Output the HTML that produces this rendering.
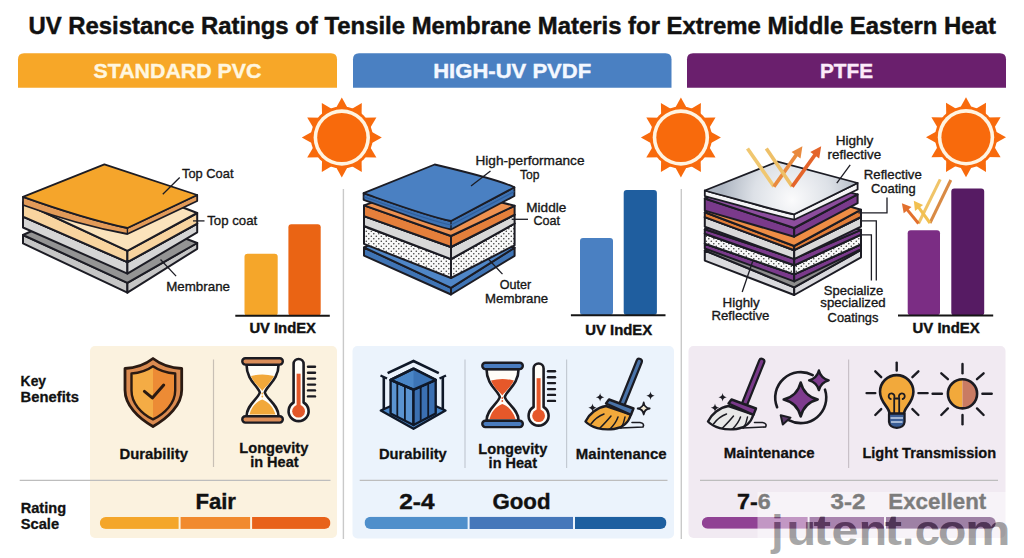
<!DOCTYPE html>
<html><head><meta charset="utf-8"><style>
html,body{margin:0;padding:0;background:#fff;width:1024px;height:558px;overflow:hidden}
svg{display:block;font-family:"Liberation Sans",sans-serif}
</style></head><body>
<svg width="1024" height="558" viewBox="0 0 1024 558">
<defs>
<pattern id="dots" width="5" height="5" patternUnits="userSpaceOnUse"><rect width="5" height="5" fill="#F8F8F8"/><circle cx="1.3" cy="1.3" r="0.8" fill="#3a3a3a"/><circle cx="3.8" cy="3.8" r="0.8" fill="#3a3a3a"/></pattern>
<radialGradient id="silver" gradientUnits="userSpaceOnUse" cx="792" cy="195" r="70" fx="792" fy="200"><stop offset="0" stop-color="#FBFBFC"/><stop offset="0.55" stop-color="#DDE1E7"/><stop offset="1" stop-color="#AEB6C2"/></radialGradient>
<linearGradient id="arrIn" x1="0" y1="0" x2="1" y2="1"><stop offset="0" stop-color="#F6D27A"/><stop offset="1" stop-color="#E9A040"/></linearGradient>
<linearGradient id="arrOut" x1="0" y1="1" x2="1" y2="0"><stop offset="0" stop-color="#E99A45"/><stop offset="1" stop-color="#E2602A"/></linearGradient>
</defs>
<rect x="0" y="0" width="1024" height="558" fill="#FFFFFF"/>
<text x="28.4" y="34.3" font-size="24" font-weight="bold" fill="#111" text-anchor="start" textLength="967.5" lengthAdjust="spacingAndGlyphs" stroke="#111" stroke-width="0.45">UV Resistance Ratings of Tensile Membrane Materis for Extreme Middle Eastern Heat</text>
<path d="M18,87.8 L18,59.3 Q18,53.3 24,53.3 L331,53.3 Q337,53.3 337,59.3 L337,87.8 Z" fill="#F7A728"/>
<text x="177.5" y="78.4" font-size="21" font-weight="bold" fill="#FFF6DF" text-anchor="middle" textLength="168.0" lengthAdjust="spacingAndGlyphs" stroke="#FFF6DF" stroke-width="0.4">STANDARD PVC</text>
<path d="M353,87.8 L353,59.3 Q353,53.3 359,53.3 L665.5,53.3 Q671.5,53.3 671.5,59.3 L671.5,87.8 Z" fill="#4A80C2"/>
<text x="512.2" y="78.4" font-size="21" font-weight="bold" fill="#F4F8FF" text-anchor="middle" textLength="158.0" lengthAdjust="spacingAndGlyphs" stroke="#F4F8FF" stroke-width="0.4">HIGH-UV PVDF</text>
<path d="M687,87.8 L687,59.3 Q687,53.3 693,53.3 L1000,53.3 Q1006,53.3 1006,59.3 L1006,87.8 Z" fill="#6A1F6D"/>
<text x="846.5" y="78.4" font-size="21" font-weight="bold" fill="#FCEBFA" text-anchor="middle" textLength="53.0" lengthAdjust="spacingAndGlyphs" stroke="#FCEBFA" stroke-width="0.4">PTFE</text>
<line x1="343.4" y1="189.0" x2="343.4" y2="539.0" stroke="#C9C9C9" stroke-width="1.4" />
<line x1="681.3" y1="189.0" x2="681.3" y2="539.0" stroke="#C9C9C9" stroke-width="1.4" />
<circle cx="341.8" cy="137.5" r="31" fill="#F86A0C"/>
<polygon points="341.8,97.5 349.0,110.5 334.6,110.5" fill="#F86A0C"/>
<polygon points="361.8,102.9 361.5,117.7 349.1,110.5" fill="#F86A0C"/>
<polygon points="376.4,117.5 368.8,130.2 361.6,117.8" fill="#F86A0C"/>
<polygon points="381.8,137.5 368.8,144.7 368.8,130.3" fill="#F86A0C"/>
<polygon points="376.4,157.5 361.6,157.2 368.8,144.8" fill="#F86A0C"/>
<polygon points="361.8,172.1 349.1,164.5 361.5,157.3" fill="#F86A0C"/>
<polygon points="341.8,177.5 334.6,164.5 349.0,164.5" fill="#F86A0C"/>
<polygon points="321.8,172.1 322.1,157.3 334.5,164.5" fill="#F86A0C"/>
<polygon points="307.2,157.5 314.8,144.8 322.0,157.2" fill="#F86A0C"/>
<polygon points="301.8,137.5 314.8,130.3 314.8,144.7" fill="#F86A0C"/>
<polygon points="307.2,117.5 322.0,117.8 314.8,130.2" fill="#F86A0C"/>
<polygon points="321.8,102.9 334.5,110.5 322.1,117.7" fill="#F86A0C"/>
<circle cx="341.8" cy="137.5" r="28.2" fill="#FFF4E2"/>
<circle cx="341.8" cy="137.5" r="24.6" fill="#F86A0C"/>
<circle cx="680.9" cy="137.5" r="31" fill="#F86A0C"/>
<polygon points="680.9,97.5 688.1,110.5 673.7,110.5" fill="#F86A0C"/>
<polygon points="700.9,102.9 700.6,117.7 688.2,110.5" fill="#F86A0C"/>
<polygon points="715.5,117.5 707.9,130.2 700.7,117.8" fill="#F86A0C"/>
<polygon points="720.9,137.5 707.9,144.7 707.9,130.3" fill="#F86A0C"/>
<polygon points="715.5,157.5 700.7,157.2 707.9,144.8" fill="#F86A0C"/>
<polygon points="700.9,172.1 688.2,164.5 700.6,157.3" fill="#F86A0C"/>
<polygon points="680.9,177.5 673.7,164.5 688.1,164.5" fill="#F86A0C"/>
<polygon points="660.9,172.1 661.2,157.3 673.6,164.5" fill="#F86A0C"/>
<polygon points="646.3,157.5 653.9,144.8 661.1,157.2" fill="#F86A0C"/>
<polygon points="640.9,137.5 653.9,130.3 653.9,144.7" fill="#F86A0C"/>
<polygon points="646.3,117.5 661.1,117.8 653.9,130.2" fill="#F86A0C"/>
<polygon points="660.9,102.9 673.6,110.5 661.2,117.7" fill="#F86A0C"/>
<circle cx="680.9" cy="137.5" r="28.2" fill="#FFF4E2"/>
<circle cx="680.9" cy="137.5" r="24.6" fill="#F86A0C"/>
<circle cx="966" cy="137.3" r="31" fill="#F86A0C"/>
<polygon points="966.0,97.3 973.2,110.3 958.8,110.3" fill="#F86A0C"/>
<polygon points="986.0,102.7 985.7,117.5 973.3,110.3" fill="#F86A0C"/>
<polygon points="1000.6,117.3 993.0,130.0 985.8,117.6" fill="#F86A0C"/>
<polygon points="1006.0,137.3 993.0,144.5 993.0,130.1" fill="#F86A0C"/>
<polygon points="1000.6,157.3 985.8,157.0 993.0,144.6" fill="#F86A0C"/>
<polygon points="986.0,171.9 973.3,164.3 985.7,157.1" fill="#F86A0C"/>
<polygon points="966.0,177.3 958.8,164.3 973.2,164.3" fill="#F86A0C"/>
<polygon points="946.0,171.9 946.3,157.1 958.7,164.3" fill="#F86A0C"/>
<polygon points="931.4,157.3 939.0,144.6 946.2,157.0" fill="#F86A0C"/>
<polygon points="926.0,137.3 939.0,130.1 939.0,144.5" fill="#F86A0C"/>
<polygon points="931.4,117.3 946.2,117.6 939.0,130.0" fill="#F86A0C"/>
<polygon points="946.0,102.7 958.7,110.3 946.3,117.5" fill="#F86A0C"/>
<circle cx="966" cy="137.3" r="28.2" fill="#FFF4E2"/>
<circle cx="966" cy="137.3" r="24.6" fill="#F86A0C"/>
<polygon points="23.0,235.0 127.4,282.8 127.4,292.7 23.0,243.4" fill="#C6C6C6" stroke="#1c1c24" stroke-width="2.0" stroke-linejoin="round" />
<polygon points="127.4,282.8 197.2,243.0 197.2,248.8 127.4,292.7" fill="#C6C6C6" stroke="#1c1c24" stroke-width="2.0" stroke-linejoin="round" />
<polygon points="23.0,235.0 92.8,203.2 197.2,243.0 127.4,282.8" fill="#949494" stroke="#1c1c24" stroke-width="2.0" stroke-linejoin="round" />
<polygon points="23.0,216.6 127.4,262.2 127.4,273.6 23.0,227.5" fill="#D5D5D5" stroke="#1c1c24" stroke-width="2.0" stroke-linejoin="round" />
<polygon points="127.4,262.2 197.2,223.7 197.2,232.3 127.4,273.6" fill="#D5D5D5" stroke="#1c1c24" stroke-width="2.0" stroke-linejoin="round" />
<polygon points="23.0,216.6 92.8,186.1 197.2,223.7 127.4,262.2" fill="#D6D6D6" stroke="#1c1c24" stroke-width="2.0" stroke-linejoin="round" />
<polygon points="23.0,202.5 127.4,250.8 127.4,262.2 23.0,216.6" fill="#F8D49F" stroke="#1c1c24" stroke-width="2.0" stroke-linejoin="round" />
<polygon points="127.4,250.8 197.2,213.0 197.2,223.7 127.4,262.2" fill="#F8D49F" stroke="#1c1c24" stroke-width="2.0" stroke-linejoin="round" />
<polygon points="23.0,202.5 92.8,172.7 197.2,213.0 127.4,250.8" fill="#FBE3BC" stroke="#1c1c24" stroke-width="2.0" stroke-linejoin="round" />
<path d="M23,196.8 C60,210 100,222 127.4,228 L197.2,195 L197.2,201 L127.4,234 C100,229 60,218.5 23,205 Z" fill="#E29A58" stroke="#1c1c24" stroke-width="1.8" stroke-linejoin="round"/>
<path d="M23,196.8 L104.4,164.3 L197.2,195 L127.4,228 C100,222 60,210 23,196.8 Z" fill="#F5A52B" stroke="#1c1c24" stroke-width="1.8" stroke-linejoin="round"/>
<line x1="127.4" y1="228.0" x2="127.4" y2="234.0" stroke="#1c1c24" stroke-width="1.4" />
<text x="182.0" y="178.1" font-size="13.5" font-weight="normal" fill="#1a1a1a" text-anchor="start" textLength="51.5" lengthAdjust="spacingAndGlyphs" stroke="#111" stroke-width="0.35">Top Coat</text>
<line x1="179.7" y1="177.5" x2="162.8" y2="194.3" stroke="#1c1c24" stroke-width="1.3" />
<text x="207.2" y="225.2" font-size="13.5" font-weight="normal" fill="#1a1a1a" text-anchor="start" textLength="50.0" lengthAdjust="spacingAndGlyphs" stroke="#111" stroke-width="0.35">Top coat</text>
<line x1="193.0" y1="220.9" x2="204.5" y2="220.9" stroke="#1c1c24" stroke-width="1.3" />
<text x="166.2" y="290.8" font-size="13.5" font-weight="normal" fill="#1a1a1a" text-anchor="start" textLength="63.8" lengthAdjust="spacingAndGlyphs" stroke="#111" stroke-width="0.35">Membrane</text>
<line x1="160.5" y1="259.5" x2="176.1" y2="276.1" stroke="#1c1c24" stroke-width="1.3" />
<rect x="244.5" y="253.7" width="33.2" height="62" rx="3" fill="#F5A62A"/>
<rect x="288.4" y="224.2" width="32.3" height="91.5" rx="3" fill="#EA6414"/>
<line x1="235.3" y1="315.8" x2="329.8" y2="315.8" stroke="#151515" stroke-width="2" />
<text x="249.4" y="333.4" font-size="15" font-weight="bold" fill="#111" text-anchor="start" textLength="66.5" lengthAdjust="spacingAndGlyphs" stroke="#111" stroke-width="0.4">UV IndEX</text>
<polygon points="364.0,247.5 451.0,287.8 451.0,294.5 364.0,255.6" fill="#3F74B5" stroke="#1c1c24" stroke-width="2.0" stroke-linejoin="round" />
<polygon points="451.0,287.8 514.6,247.7 514.6,255.8 451.0,294.5" fill="#3F74B5" stroke="#1c1c24" stroke-width="2.0" stroke-linejoin="round" />
<polygon points="364.0,247.5 427.6,215.4 514.6,247.7 451.0,287.8" fill="#4F86C7" stroke="#1c1c24" stroke-width="2.0" stroke-linejoin="round" />
<polygon points="364.0,226.0 451.0,259.1 451.0,278.0 364.0,243.9" fill="url(#dots)" stroke="#1c1c24" stroke-width="2.0" stroke-linejoin="round" />
<polygon points="451.0,259.1 514.6,223.5 514.6,245.3 451.0,278.0" fill="url(#dots)" stroke="#1c1c24" stroke-width="2.0" stroke-linejoin="round" />
<polygon points="364.0,226.0 427.6,198.4 514.6,223.5 451.0,259.1" fill="#F5F5F5" stroke="#1c1c24" stroke-width="2.0" stroke-linejoin="round" />
<polygon points="364.0,216.1 451.0,247.0 451.0,259.1 364.0,226.0" fill="#D8D8D8" stroke="#1c1c24" stroke-width="2.0" stroke-linejoin="round" />
<polygon points="451.0,247.0 514.6,214.7 514.6,223.5 451.0,259.1" fill="#D8D8D8" stroke="#1c1c24" stroke-width="2.0" stroke-linejoin="round" />
<polygon points="364.0,216.1 427.6,191.8 514.6,214.7 451.0,247.0" fill="#DADADA" stroke="#1c1c24" stroke-width="2.0" stroke-linejoin="round" />
<polygon points="364.0,205.4 451.0,236.0 451.0,247.0 364.0,216.1" fill="#E57F3B" stroke="#1c1c24" stroke-width="2.0" stroke-linejoin="round" />
<polygon points="451.0,236.0 514.6,205.8 514.6,214.7 451.0,247.0" fill="#E57F3B" stroke="#1c1c24" stroke-width="2.0" stroke-linejoin="round" />
<polygon points="364.0,205.4 427.6,183.2 514.6,205.8 451.0,236.0" fill="#EE9150" stroke="#1c1c24" stroke-width="2.0" stroke-linejoin="round" />
<path d="M363.6,193.2 C400,206 430,217 451,221 L514.4,187.3 L514.4,196 L451,229.5 C430,225 400,212.5 363.6,199.8 Z" fill="#3D71B2" stroke="#1c1c24" stroke-width="1.8" stroke-linejoin="round"/>
<path d="M363.6,193.2 L434.7,164.5 Q500,180 514.4,187.3 L451,221 C430,217 400,206 363.6,193.2 Z" fill="#4A80C2" stroke="#1c1c24" stroke-width="1.8" stroke-linejoin="round"/>
<line x1="451.0" y1="221.0" x2="451.0" y2="229.5" stroke="#1c1c24" stroke-width="1.4" />
<path d="M363.6,196.8 C400,209.5 430,220.8 451,225 L514.4,191.5" fill="none" stroke="#2F5E9A" stroke-width="1.1"/>
<text x="475.5" y="164.7" font-size="13.5" font-weight="normal" fill="#1a1a1a" text-anchor="start" textLength="109.0" lengthAdjust="spacingAndGlyphs" stroke="#111" stroke-width="0.35">High-performance</text>
<text x="520.0" y="179.2" font-size="13.5" font-weight="normal" fill="#1a1a1a" text-anchor="start" textLength="19.5" lengthAdjust="spacingAndGlyphs" stroke="#111" stroke-width="0.35">Top</text>
<line x1="490.5" y1="171.0" x2="471.0" y2="186.0" stroke="#1c1c24" stroke-width="1.3" />
<text x="526.3" y="211.6" font-size="13.5" font-weight="normal" fill="#1a1a1a" text-anchor="start" textLength="40.0" lengthAdjust="spacingAndGlyphs" stroke="#111" stroke-width="0.35">Middle</text>
<text x="533.5" y="225.1" font-size="13.5" font-weight="normal" fill="#1a1a1a" text-anchor="start" textLength="26.6" lengthAdjust="spacingAndGlyphs" stroke="#111" stroke-width="0.35">Coat</text>
<line x1="511.7" y1="219.3" x2="528.0" y2="219.3" stroke="#1c1c24" stroke-width="1.3" />
<text x="499.7" y="289.0" font-size="13.5" font-weight="normal" fill="#1a1a1a" text-anchor="start" textLength="31.4" lengthAdjust="spacingAndGlyphs" stroke="#111" stroke-width="0.35">Outer</text>
<text x="485.1" y="302.5" font-size="13.5" font-weight="normal" fill="#1a1a1a" text-anchor="start" textLength="63.0" lengthAdjust="spacingAndGlyphs" stroke="#111" stroke-width="0.35">Membrane</text>
<line x1="488.3" y1="259.0" x2="502.5" y2="274.1" stroke="#1c1c24" stroke-width="1.3" />
<rect x="580" y="237.9" width="33" height="77" rx="3" fill="#4A80C2"/>
<rect x="623.7" y="190" width="33.2" height="125" rx="3" fill="#1F5E9F"/>
<line x1="570.9" y1="315.2" x2="665.5" y2="315.2" stroke="#151515" stroke-width="2" />
<text x="585.2" y="334.8" font-size="15" font-weight="bold" fill="#111" text-anchor="start" textLength="67.0" lengthAdjust="spacingAndGlyphs" stroke="#111" stroke-width="0.4">UV IndEX</text>
<polygon points="704.8,250.5 794.2,287.3 794.2,295.0 704.8,260.6" fill="#DADADE" stroke="#1c1c24" stroke-width="2.0" stroke-linejoin="round" />
<polygon points="794.2,287.3 861.0,250.0 861.0,257.3 794.2,295.0" fill="#DADADE" stroke="#1c1c24" stroke-width="2.0" stroke-linejoin="round" />
<polygon points="704.8,250.5 771.6,221.2 861.0,250.0 794.2,287.3" fill="#8C8C8C" stroke="#1c1c24" stroke-width="2.0" stroke-linejoin="round" />
<polygon points="704.8,243.7 794.2,274.4 794.2,281.4 704.8,248.5" fill="#7A3A8B" stroke="#1c1c24" stroke-width="2.0" stroke-linejoin="round" />
<polygon points="794.2,274.4 861.0,244.4 861.0,249.2 794.2,281.4" fill="#7A3A8B" stroke="#1c1c24" stroke-width="2.0" stroke-linejoin="round" />
<polygon points="704.8,243.7 771.6,221.7 861.0,244.4 794.2,274.4" fill="#8C4D9D" stroke="#1c1c24" stroke-width="2.0" stroke-linejoin="round" />
<polygon points="704.8,233.7 794.2,265.3 794.2,274.4 704.8,243.7" fill="url(#dots)" stroke="#1c1c24" stroke-width="2.0" stroke-linejoin="round" />
<polygon points="794.2,265.3 861.0,234.7 861.0,244.4 794.2,274.4" fill="url(#dots)" stroke="#1c1c24" stroke-width="2.0" stroke-linejoin="round" />
<polygon points="704.8,233.7 771.6,211.1 861.0,234.7 794.2,265.3" fill="#F5F5F5" stroke="#1c1c24" stroke-width="2.0" stroke-linejoin="round" />
<polygon points="704.8,229.3 794.2,258.5 794.2,265.3 704.8,233.7" fill="#7A3A8B" stroke="#1c1c24" stroke-width="2.0" stroke-linejoin="round" />
<polygon points="794.2,258.5 861.0,229.8 861.0,234.7 794.2,265.3" fill="#7A3A8B" stroke="#1c1c24" stroke-width="2.0" stroke-linejoin="round" />
<polygon points="704.8,229.3 771.6,208.6 861.0,229.8 794.2,258.5" fill="#8C4D9D" stroke="#1c1c24" stroke-width="2.0" stroke-linejoin="round" />
<polygon points="704.8,217.1 794.2,250.2 794.2,259.1 704.8,226.8" fill="#D9D9D9" stroke="#1c1c24" stroke-width="2.0" stroke-linejoin="round" />
<polygon points="794.2,250.2 861.0,217.0 861.0,226.6 794.2,259.1" fill="#D9D9D9" stroke="#1c1c24" stroke-width="2.0" stroke-linejoin="round" />
<polygon points="704.8,217.1 771.6,191.9 861.0,217.0 794.2,250.2" fill="#DCDCDC" stroke="#1c1c24" stroke-width="2.0" stroke-linejoin="round" />
<polygon points="704.8,212.3 794.2,246.0 794.2,250.2 704.8,217.1" fill="#E27E38" stroke="#1c1c24" stroke-width="2.0" stroke-linejoin="round" />
<polygon points="794.2,246.0 861.0,209.7 861.0,217.0 794.2,250.2" fill="#E27E38" stroke="#1c1c24" stroke-width="2.0" stroke-linejoin="round" />
<polygon points="704.8,212.3 771.6,184.0 861.0,209.7 794.2,246.0" fill="#EE8D45" stroke="#1c1c24" stroke-width="2.0" stroke-linejoin="round" />
<polygon points="704.8,198.5 794.2,228.0 794.2,236.7 704.8,210.6" fill="#7A3A8B" stroke="#1c1c24" stroke-width="2.0" stroke-linejoin="round" />
<polygon points="794.2,228.0 857.6,194.4 857.6,203.2 794.2,236.7" fill="#7A3A8B" stroke="#1c1c24" stroke-width="2.0" stroke-linejoin="round" />
<polygon points="704.8,198.5 768.2,172.9 857.6,194.4 794.2,228.0" fill="#8C4D9D" stroke="#1c1c24" stroke-width="2.0" stroke-linejoin="round" />
<path d="M704.8,190.5 C740,200 770,209 794.2,214.3 L857.6,183 L857.6,189.5 L794.2,219.7 C770,214.5 740,205.5 704.8,196.1 Z" fill="#F4F4F6" stroke="#1c1c24" stroke-width="1.8" stroke-linejoin="round"/>
<path d="M704.8,190.5 L777.6,161.7 L857.6,183 L794.2,214.3 C770,209 740,200 704.8,190.5 Z" fill="url(#silver)" stroke="#1c1c24" stroke-width="1.8" stroke-linejoin="round"/>
<line x1="794.2" y1="214.3" x2="794.2" y2="219.7" stroke="#1c1c24" stroke-width="1.4" />
<polyline points="747.5,148.4 773.9,186.6" fill="none" stroke="#F0C770" stroke-width="3.6" stroke-linecap="butt"/>
<polyline points="773.9,186.6 797.2,153.6" fill="none" stroke="#E98A3E" stroke-width="3.6" stroke-linejoin="miter"/>
<polygon points="802.4,146.3 800.5,158.5 791.6,152.1" fill="#E98A3E"/>
<polyline points="766.3,148.4 792.2,186.6" fill="none" stroke="#EEC068" stroke-width="3.6" stroke-linecap="butt"/>
<polyline points="792.2,186.6 815.9,153.6" fill="none" stroke="#E4642A" stroke-width="3.6" stroke-linejoin="miter"/>
<polygon points="821.2,146.3 819.2,158.4 810.3,152.0" fill="#E4642A"/>
<text x="854.5" y="145.3" font-size="13.5" font-weight="normal" fill="#1a1a1a" text-anchor="middle" textLength="37.7" lengthAdjust="spacingAndGlyphs" stroke="#111" stroke-width="0.35">Highly</text>
<text x="827.6" y="159.0" font-size="13.5" font-weight="normal" fill="#1a1a1a" text-anchor="start" textLength="53.5" lengthAdjust="spacingAndGlyphs" stroke="#111" stroke-width="0.35">reflective</text>
<line x1="850.2" y1="164.8" x2="836.8" y2="183.2" stroke="#1c1c24" stroke-width="1.3" />
<text x="863.8" y="179.2" font-size="13.5" font-weight="normal" fill="#1a1a1a" text-anchor="start" textLength="58.0" lengthAdjust="spacingAndGlyphs" stroke="#111" stroke-width="0.35">Reflective</text>
<text x="871.0" y="192.7" font-size="13.5" font-weight="normal" fill="#1a1a1a" text-anchor="start" textLength="44.6" lengthAdjust="spacingAndGlyphs" stroke="#111" stroke-width="0.35">Coating</text>
<polyline points="887,197.6 887,212.8 858.3,212.8" fill="none" stroke="#1c1c24" stroke-width="1.3"/>
<polyline points="860.8,220.9 876.3,220.9 876.3,280.6" fill="none" stroke="#1c1c24" stroke-width="1.3"/>
<polyline points="860.8,234.9 871.4,234.9 871.4,280.6" fill="none" stroke="#1c1c24" stroke-width="1.3"/>
<text x="823.7" y="295.3" font-size="13.5" font-weight="normal" fill="#1a1a1a" text-anchor="start" textLength="59.5" lengthAdjust="spacingAndGlyphs" stroke="#111" stroke-width="0.35">Specialize</text>
<text x="820.3" y="307.4" font-size="13.5" font-weight="normal" fill="#1a1a1a" text-anchor="start" textLength="65.3" lengthAdjust="spacingAndGlyphs" stroke="#111" stroke-width="0.35">specialized</text>
<text x="827.6" y="321.9" font-size="13.5" font-weight="normal" fill="#1a1a1a" text-anchor="start" textLength="50.8" lengthAdjust="spacingAndGlyphs" stroke="#111" stroke-width="0.35">Coatings</text>
<text x="722.6" y="307.4" font-size="13.5" font-weight="normal" fill="#1a1a1a" text-anchor="start" textLength="37.2" lengthAdjust="spacingAndGlyphs" stroke="#111" stroke-width="0.35">Highly</text>
<text x="711.4" y="320.4" font-size="13.5" font-weight="normal" fill="#1a1a1a" text-anchor="start" textLength="58.0" lengthAdjust="spacingAndGlyphs" stroke="#111" stroke-width="0.35">Reflective</text>
<line x1="752.7" y1="261.3" x2="742.2" y2="292.0" stroke="#1c1c24" stroke-width="1.3" />
<rect x="907.7" y="230.3" width="32.3" height="85" rx="3" fill="#7B2D84"/>
<rect x="951.3" y="188.4" width="32.9" height="127" rx="3" fill="#561B63"/>
<line x1="898.0" y1="315.5" x2="993.2" y2="315.5" stroke="#151515" stroke-width="2" />
<text x="912.6" y="332.6" font-size="15" font-weight="bold" fill="#111" text-anchor="start" textLength="67.0" lengthAdjust="spacingAndGlyphs" stroke="#111" stroke-width="0.4">UV IndEX</text>
<polyline points="940.2,179.4 918.5,223.5" fill="none" stroke="#F0C468" stroke-width="3.0" stroke-linecap="butt"/>
<polyline points="918.5,223.5 906.3,208.6" fill="none" stroke="#E2702E" stroke-width="3.0" stroke-linejoin="miter"/>
<polygon points="901.9,203.2 911.5,207.0 903.7,213.3" fill="#E2702E"/>
<polyline points="950.8,180 930,223" fill="none" stroke="#D98A45" stroke-width="3.0" stroke-linecap="butt"/>
<polyline points="930,223 917.9,206.4" fill="none" stroke="#F2C050" stroke-width="3.0" stroke-linejoin="miter"/>
<polygon points="913.8,200.7 923.1,205.0 915.0,210.9" fill="#F2C050"/>
<rect x="90" y="346" width="247" height="192" rx="5" fill="#FBF2DF"/>
<rect x="352.5" y="346" width="321.5" height="192.5" rx="5" fill="#EBF3FC"/>
<rect x="688.5" y="346" width="317.0" height="192" rx="5" fill="#F1EAF2"/>
<line x1="19.7" y1="480.3" x2="330.5" y2="480.3" stroke="#BDBDBD" stroke-width="1.2" />
<line x1="359.7" y1="480.3" x2="667.5" y2="480.3" stroke="#BDBDBD" stroke-width="1.2" />
<line x1="700.0" y1="480.3" x2="998.0" y2="480.3" stroke="#BDBDBD" stroke-width="1.2" />
<line x1="213.5" y1="359.5" x2="213.5" y2="467.0" stroke="#C8C0B5" stroke-width="1.2" />
<line x1="465.0" y1="359.5" x2="465.0" y2="468.0" stroke="#C3CAD3" stroke-width="1.2" />
<line x1="566.6" y1="359.5" x2="566.6" y2="468.0" stroke="#C3CAD3" stroke-width="1.2" />
<line x1="848.6" y1="359.5" x2="848.6" y2="468.0" stroke="#C8C0C8" stroke-width="1.2" />
<text x="20.6" y="385.6" font-size="14.5" font-weight="bold" fill="#111" text-anchor="start" textLength="25.5" lengthAdjust="spacingAndGlyphs" stroke="#111" stroke-width="0.3">Key</text>
<text x="20.6" y="401.8" font-size="14.5" font-weight="bold" fill="#111" text-anchor="start" textLength="58.3" lengthAdjust="spacingAndGlyphs" stroke="#111" stroke-width="0.3">Benefits</text>
<text x="20.7" y="512.7" font-size="14.5" font-weight="bold" fill="#111" text-anchor="start" textLength="45.4" lengthAdjust="spacingAndGlyphs" stroke="#111" stroke-width="0.3">Rating</text>
<text x="20.7" y="528.5" font-size="14.5" font-weight="bold" fill="#111" text-anchor="start" textLength="38.4" lengthAdjust="spacingAndGlyphs" stroke="#111" stroke-width="0.3">Scale</text>
<text x="153.7" y="458.8" font-size="15.5" font-weight="bold" fill="#111" text-anchor="middle" textLength="68.5" lengthAdjust="spacingAndGlyphs" stroke="#111" stroke-width="0.3">Durability</text>
<text x="273.8" y="452.7" font-size="15.5" font-weight="bold" fill="#111" text-anchor="middle" textLength="69.0" lengthAdjust="spacingAndGlyphs" stroke="#111" stroke-width="0.3">Longevity</text>
<text x="274.4" y="467.2" font-size="15.5" font-weight="bold" fill="#111" text-anchor="middle" textLength="48.4" lengthAdjust="spacingAndGlyphs" stroke="#111" stroke-width="0.3">in Heat</text>
<text x="412.9" y="458.7" font-size="15.5" font-weight="bold" fill="#111" text-anchor="middle" textLength="67.8" lengthAdjust="spacingAndGlyphs" stroke="#111" stroke-width="0.3">Durability</text>
<text x="512.8" y="454.4" font-size="15.5" font-weight="bold" fill="#111" text-anchor="middle" textLength="69.0" lengthAdjust="spacingAndGlyphs" stroke="#111" stroke-width="0.3">Longevity</text>
<text x="512.8" y="468.4" font-size="15.5" font-weight="bold" fill="#111" text-anchor="middle" textLength="48.4" lengthAdjust="spacingAndGlyphs" stroke="#111" stroke-width="0.3">in Heat</text>
<text x="621.2" y="458.7" font-size="15.5" font-weight="bold" fill="#111" text-anchor="middle" textLength="90.7" lengthAdjust="spacingAndGlyphs" stroke="#111" stroke-width="0.3">Maintenance</text>
<text x="769.2" y="458.2" font-size="15.5" font-weight="bold" fill="#111" text-anchor="middle" textLength="90.7" lengthAdjust="spacingAndGlyphs" stroke="#111" stroke-width="0.3">Maintenance</text>
<text x="929.3" y="458.2" font-size="15.5" font-weight="bold" fill="#111" text-anchor="middle" textLength="133.8" lengthAdjust="spacingAndGlyphs" stroke="#111" stroke-width="0.3">Light Transmission</text>
<clipPath id="c99"><rect x="99.8" y="517" width="230.7" height="11.899999999999977" rx="5.949999999999989"/></clipPath>
<rect x="99.8" y="517" width="78.8" height="11.899999999999977" fill="#F4A62A" clip-path="url(#c99)"/>
<rect x="180.6" y="517" width="69.5" height="11.899999999999977" fill="#F18A2E" clip-path="url(#c99)"/>
<rect x="252.1" y="517" width="78.4" height="11.899999999999977" fill="#E8621A" clip-path="url(#c99)"/>
<clipPath id="c364"><rect x="364.5" y="516.7" width="302.0" height="12.299999999999955" rx="6.149999999999977"/></clipPath>
<rect x="364.5" y="516.7" width="103.10000000000002" height="12.299999999999955" fill="#4F8FCB" clip-path="url(#c364)"/>
<rect x="469.6" y="516.7" width="103.39999999999998" height="12.299999999999955" fill="#4577BA" clip-path="url(#c364)"/>
<rect x="575" y="516.7" width="91.5" height="12.299999999999955" fill="#1D5FA0" clip-path="url(#c364)"/>
<clipPath id="c701"><rect x="701.8" y="517" width="294.0" height="11.799999999999955" rx="5.899999999999977"/></clipPath>
<rect x="701.8" y="517" width="105.80000000000007" height="11.799999999999955" fill="#904294" clip-path="url(#c701)"/>
<rect x="809.6" y="517" width="74.39999999999998" height="11.799999999999955" fill="#631F6D" clip-path="url(#c701)"/>
<rect x="886" y="517" width="109.79999999999995" height="11.799999999999955" fill="#4F1A5C" clip-path="url(#c701)"/>
<text x="215.7" y="509.3" font-size="22" font-weight="bold" fill="#111" text-anchor="middle" textLength="40.5" lengthAdjust="spacingAndGlyphs" stroke="#111" stroke-width="0.4">Fair</text>
<text x="416.9" y="509.3" font-size="22" font-weight="bold" fill="#111" text-anchor="middle" textLength="35.2" lengthAdjust="spacingAndGlyphs" stroke="#111" stroke-width="0.4">2-4</text>
<text x="521.5" y="509.3" font-size="22" font-weight="bold" fill="#111" text-anchor="middle" textLength="58.1" lengthAdjust="spacingAndGlyphs" stroke="#111" stroke-width="0.4">Good</text>
<text x="753.8" y="509.3" font-size="22" font-weight="bold" fill="#111" text-anchor="middle" textLength="33.7" lengthAdjust="spacingAndGlyphs" stroke="#111" stroke-width="0.4">7-6</text>
<text x="848.0" y="509.3" font-size="22" font-weight="bold" fill="#111" text-anchor="middle" textLength="34.9" lengthAdjust="spacingAndGlyphs" stroke="#111" stroke-width="0.4">3-2</text>
<text x="937.3" y="509.3" font-size="22" font-weight="bold" fill="#111" text-anchor="middle" textLength="98.0" lengthAdjust="spacingAndGlyphs" stroke="#111" stroke-width="0.4">Excellent</text>
<path d="M153,358.5 C146,364 136,368 125,368.5 L125,390 C125,405 138,418 153,426.5 C168,418 181.7,405 181.7,390 L181.7,368.5 C170.5,368 160,364 153,358.5 Z" fill="#DB8B50" stroke="#2A1A12" stroke-width="2.8" stroke-linejoin="round"/>
<path d="M153,366.3 C147,370.5 139,373 131.5,373.5 L131.5,390.5 C131.5,403 141,413.5 153,419.4 Z" fill="#F4AC45"/>
<path d="M153,366.3 C159,370.5 167,373 175.2,373.5 L175.2,390.5 C175.2,403 165,413.5 153,419.4 Z" fill="#EC8B35"/>
<path d="M153,366.3 C147,370.5 139,373 131.5,373.5 L131.5,390.5 C131.5,403 141,413.5 153,419.4 C165,413.5 175.2,403 175.2,390.5 L175.2,373.5 C167,373 159,370.5 153,366.3 Z" fill="none" stroke="#2A1A12" stroke-width="2.4" stroke-linejoin="round"/>
<polyline points="144.4,391.4 152.3,397.9 163.7,385" fill="none" stroke="#2A1A12" stroke-width="3" stroke-linecap="round" stroke-linejoin="round"/>
<path d="M246.5,364.6 C246.5,380 258,386 259.8,392.5 C258,399 246.5,405 246.5,416.3 L278.6,416.3 C278.6,405 266.5,399 264.8,392.5 C266.5,386 278.6,380 278.6,364.6 Z" fill="#FFFDF8" stroke="#1B1B22" stroke-width="2.6" stroke-linejoin="round"/>
<path d="M251,376 Q262.3,373 274,376 C270,384 264,388 262.3,391 C260.5,388 254,384 251,376 Z" fill="#F2A83A"/>
<path d="M249.5,414.5 C252,405 258,401 262.3,399.5 C266.5,401 272.5,405 275.5,414.5 Z" fill="#F2A83A"/>
<circle cx="262.3" cy="393.5" r="0.9" fill="#F2A83A"/><circle cx="262.3" cy="396.5" r="0.9" fill="#F2A83A"/>
<rect x="242.3" y="358.3" width="40.5" height="6.3" rx="3" fill="#DB8D58" stroke="#1B1B22" stroke-width="2.4"/>
<rect x="242.3" y="416.3" width="40.5" height="6.3" rx="3" fill="#DB8D58" stroke="#1B1B22" stroke-width="2.4"/>
<path d="M293.6,364 A5,5 0 0 1 303.6,364 L303.6,402.5 A10,10 0 1 1 293.6,402.5 Z" fill="#FFFDF8" stroke="#1B1B22" stroke-width="2.6" stroke-linejoin="round"/>
<rect x="296.6" y="373.7" width="4" height="34" fill="#E3582A"/>
<circle cx="298.6" cy="411.2" r="6.4" fill="#E3582A"/>
<line x1="308" y1="366.7" x2="315" y2="366.7" stroke="#1B1B22" stroke-width="2.4" stroke-linecap="round"/>
<line x1="308" y1="372.7" x2="315" y2="372.7" stroke="#1B1B22" stroke-width="2.4" stroke-linecap="round"/>
<line x1="308" y1="378.6" x2="315" y2="378.6" stroke="#1B1B22" stroke-width="2.4" stroke-linecap="round"/>
<line x1="308" y1="384.6" x2="315" y2="384.6" stroke="#1B1B22" stroke-width="2.4" stroke-linecap="round"/>
<line x1="308" y1="390.4" x2="315" y2="390.4" stroke="#1B1B22" stroke-width="2.4" stroke-linecap="round"/>
<line x1="308" y1="396.4" x2="315" y2="396.4" stroke="#1B1B22" stroke-width="2.4" stroke-linecap="round"/>
<path d="M486.5,369.1 C486.5,384.5 498,390.5 499.8,397.0 C498,403.5 486.5,409.5 486.5,420.8 L518.6,420.8 C518.6,409.5 506.5,403.5 504.8,397.0 C506.5,390.5 518.6,384.5 518.6,369.1 Z" fill="#FFFDF8" stroke="#1B1B22" stroke-width="2.6" stroke-linejoin="round"/>
<path d="M491,380.5 Q502.3,377.5 514,380.5 C510,388.5 504,392.5 502.3,395.5 C500.5,392.5 494,388.5 491,380.5 Z" fill="#E6582A"/>
<path d="M489.5,419.0 C492,409.5 498,405.5 502.3,404.0 C506.5,405.5 512.5,409.5 515.5,419.0 Z" fill="#E6582A"/>
<circle cx="502.3" cy="398.0" r="0.9" fill="#E6582A"/><circle cx="502.3" cy="401.0" r="0.9" fill="#E6582A"/>
<rect x="482.3" y="362.8" width="40.5" height="6.3" rx="3" fill="#4A7CBF" stroke="#1B1B22" stroke-width="2.4"/>
<rect x="482.3" y="420.8" width="40.5" height="6.3" rx="3" fill="#4A7CBF" stroke="#1B1B22" stroke-width="2.4"/>
<path d="M533.6,368.5 A5,5 0 0 1 543.6,368.5 L543.6,407.0 A10,10 0 1 1 533.6,407.0 Z" fill="#FFFDF8" stroke="#1B1B22" stroke-width="2.6" stroke-linejoin="round"/>
<rect x="536.6" y="378.2" width="4" height="34" fill="#E6582A"/>
<circle cx="538.6" cy="415.7" r="6.4" fill="#E6582A"/>
<line x1="548" y1="371.2" x2="555" y2="371.2" stroke="#1B1B22" stroke-width="2.4" stroke-linecap="round"/>
<line x1="548" y1="377.2" x2="555" y2="377.2" stroke="#1B1B22" stroke-width="2.4" stroke-linecap="round"/>
<line x1="548" y1="383.1" x2="555" y2="383.1" stroke="#1B1B22" stroke-width="2.4" stroke-linecap="round"/>
<line x1="548" y1="389.1" x2="555" y2="389.1" stroke="#1B1B22" stroke-width="2.4" stroke-linecap="round"/>
<line x1="548" y1="394.9" x2="555" y2="394.9" stroke="#1B1B22" stroke-width="2.4" stroke-linecap="round"/>
<line x1="548" y1="400.9" x2="555" y2="400.9" stroke="#1B1B22" stroke-width="2.4" stroke-linecap="round"/>
<polyline points="387.6,373.1 413.5,361 438.8,373.1" fill="none" stroke="#0F1828" stroke-width="2.6" stroke-linejoin="miter"/>
<line x1="383.8" y1="377" x2="383.8" y2="411" stroke="#0F1828" stroke-width="2.6"/>
<line x1="380.5" y1="375.5" x2="387" y2="378.5" stroke="#0F1828" stroke-width="2.4"/>
<line x1="442.8" y1="377" x2="442.8" y2="411" stroke="#0F1828" stroke-width="2.6"/>
<line x1="439.5" y1="378.5" x2="446" y2="375.5" stroke="#0F1828" stroke-width="2.4"/>
<polygon points="380.8,410.5 413.5,396 445.5,410.5 413.5,428.8" fill="#4A86C7" stroke="#0F1828" stroke-width="2.4" stroke-linejoin="round"/>
<polygon points="390.6,379.9 413.5,389.7 413.5,425 390.6,413.5" fill="#5A93D0" stroke="#0F1828" stroke-width="2.4" stroke-linejoin="round"/>
<polygon points="413.5,389.7 435.7,379.9 435.7,413.5 413.5,425" fill="#3B70B2" stroke="#0F1828" stroke-width="2.4" stroke-linejoin="round"/>
<polygon points="413.5,368.6 435.7,379.9 413.5,389.7 390.6,379.9" fill="#4A86C7" stroke="#0F1828" stroke-width="2.4" stroke-linejoin="round"/>
<polygon points="413.5,368.6 435.7,379.9 413.5,389.7" fill="#3C74B6"/>
<polygon points="413.5,368.6 435.7,379.9 413.5,389.7 390.6,379.9" fill="none" stroke="#0F1828" stroke-width="2.4" stroke-linejoin="round"/>
<line x1="397.3" y1="383" x2="397.3" y2="417" stroke="#0F1828" stroke-width="1.8"/>
<line x1="404.9" y1="386.3" x2="404.9" y2="421" stroke="#0F1828" stroke-width="1.8"/>
<line x1="420.7" y1="386.7" x2="420.7" y2="421" stroke="#0F1828" stroke-width="1.8"/>
<line x1="428.2" y1="383.4" x2="428.2" y2="417" stroke="#0F1828" stroke-width="1.8"/>
<line x1="639.2" y1="361.5" x2="622.5" y2="403" stroke="#1B1B22" stroke-width="7.5" stroke-linecap="round"/>
<line x1="639.2" y1="361.5" x2="622.5" y2="403" stroke="#4A73A8" stroke-width="3.2" stroke-linecap="round"/>
<path d="M606,406 C597,407.5 589,414 585.5,421.5 C591,427.5 602,430.5 614,429 C622,428 628,424 631,414.5 Z" fill="#F2A93B" stroke="#1B1B22" stroke-width="2.4" stroke-linejoin="round"/>
<path d="M604,414 Q596,417 591,424" fill="none" stroke="#1B1B22" stroke-width="1.5" stroke-linecap="round"/>
<path d="M611,416 Q607,421 600,428" fill="none" stroke="#1B1B22" stroke-width="1.5" stroke-linecap="round"/>
<path d="M618,417 Q616,423 610,429" fill="none" stroke="#1B1B22" stroke-width="1.5" stroke-linecap="round"/>
<path d="M625,417 Q624,423 621,428" fill="none" stroke="#1B1B22" stroke-width="1.5" stroke-linecap="round"/>
<polygon points="606,403.5 609,399.5 633.5,408.5 631,414.8" fill="#4A73A8" stroke="#1B1B22" stroke-width="2.4" stroke-linejoin="round"/>
<path d="M632,422.5 L640,422.5 Q645,423.5 643,427 L620,428" fill="none" stroke="#1B1B22" stroke-width="1.6" stroke-linecap="round"/>
<path d="M600.1,393.0 Q600.6,396.7 604.3,397.2 Q600.6,397.7 600.1,401.4 Q599.6,397.7 595.9,397.2 Q599.6,396.7 600.1,393.0 Z" fill="#1B1B22"/>
<path d="M592.5,403.5 Q593.0,407.2 596.7,407.7 Q593.0,408.2 592.5,411.9 Q592.0,408.2 588.3,407.7 Q592.0,407.2 592.5,403.5 Z" fill="#1B1B22"/>
<path d="M650.5,391.5 Q651.0,395.2 654.7,395.7 Q651.0,396.2 650.5,399.9 Q650.0,396.2 646.3,395.7 Q650.0,395.2 650.5,391.5 Z" fill="#1B1B22"/>
<path d="M643.7,402.5 Q644.4,407.8 649.7,408.5 Q644.4,409.2 643.7,414.5 Q643.0,409.2 637.7,408.5 Q643.0,407.8 643.7,402.5 Z" fill="#F4EBD2" stroke="#1B1B22" stroke-width="1.8" stroke-linejoin="round"/>
<line x1="761.7" y1="361.5" x2="745.0" y2="403" stroke="#1B1B22" stroke-width="7.5" stroke-linecap="round"/>
<line x1="761.7" y1="361.5" x2="745.0" y2="403" stroke="#7A3A8A" stroke-width="3.2" stroke-linecap="round"/>
<path d="M728.5,406 C719.5,407.5 711.5,414 708.0,421.5 C713.5,427.5 724.5,430.5 736.5,429 C744.5,428 750.5,424 753.5,414.5 Z" fill="#E8E8E8" stroke="#1B1B22" stroke-width="2.4" stroke-linejoin="round"/>
<path d="M726.5,414 Q718.5,417 713.5,424" fill="none" stroke="#1B1B22" stroke-width="1.5" stroke-linecap="round"/>
<path d="M733.5,416 Q729.5,421 722.5,428" fill="none" stroke="#1B1B22" stroke-width="1.5" stroke-linecap="round"/>
<path d="M740.5,417 Q738.5,423 732.5,429" fill="none" stroke="#1B1B22" stroke-width="1.5" stroke-linecap="round"/>
<path d="M747.5,417 Q746.5,423 743.5,428" fill="none" stroke="#1B1B22" stroke-width="1.5" stroke-linecap="round"/>
<polygon points="728.5,403.5 731.5,399.5 756.0,408.5 753.5,414.8" fill="#7A3A8A" stroke="#1B1B22" stroke-width="2.4" stroke-linejoin="round"/>
<path d="M754.5,422.5 L762.5,422.5 Q767.5,423.5 765.5,427 L742.5,428" fill="none" stroke="#1B1B22" stroke-width="1.6" stroke-linecap="round"/>
<path d="M722.6,393.0 Q723.1,396.7 726.8,397.2 Q723.1,397.7 722.6,401.4 Q722.1,397.7 718.4,397.2 Q722.1,396.7 722.6,393.0 Z" fill="#1B1B22"/>
<path d="M715.0,403.5 Q715.5,407.2 719.2,407.7 Q715.5,408.2 715.0,411.9 Q714.5,408.2 710.8,407.7 Q714.5,407.2 715.0,403.5 Z" fill="#1B1B22"/>
<path d="M812.7,375.1 A25.5,25.5 0 0 0 777.1,407.2" fill="none" stroke="#1B1B22" stroke-width="2.6" stroke-linecap="round"/>
<path d="M825.0,389.7 A25.5,25.5 0 0 1 788.7,420.1" fill="none" stroke="#1B1B22" stroke-width="2.6" stroke-linecap="round"/>
<polygon points="780.7,415.2 782.8,424.5 790.5,417.6" fill="#5B3A6A" stroke="#1B1B22" stroke-width="2" stroke-linejoin="round"/>
<path d="M800.7,382.5 Q804.1,396.1 817.7,399.5 Q804.1,402.9 800.7,416.5 Q797.3,402.9 783.7,399.5 Q797.3,396.1 800.7,382.5 Z" fill="#7E3B8E" stroke="#1B1B22" stroke-width="2.6" stroke-linejoin="round"/>
<path d="M818.9,370.5 Q820.9,378.3 828.7,380.3 Q820.9,382.3 818.9,390.1 Q816.9,382.3 809.1,380.3 Q816.9,378.3 818.9,370.5 Z" fill="#7E3B8E" stroke="#1B1B22" stroke-width="2.4" stroke-linejoin="round"/>
<path d="M889.5,413.7 C889.5,407 880,403 880,391.8 A16.7,16.7 0 1 1 913.4,391.8 C913.4,403 904,407 904,413.7 Z" fill="#F2A93B" stroke="#1B1B22" stroke-width="2.6" stroke-linejoin="round"/>
<path d="M894.2,413.5 L894.2,397.5 M899.2,413.5 L899.2,397.5 M894.2,397.5 A2.9,2.9 0 1 0 891.5,399.2 M899.2,397.5 A2.9,2.9 0 1 1 901.9,399.2 M894.2,398.5 L899.2,398.5" fill="none" stroke="#1B1B22" stroke-width="1.8"/>
<path d="M889,413.7 L904.6,413.7 L904.6,422 Q904,427.5 896.8,427.8 Q889.6,427.5 889,422 Z" fill="#3B5E96" stroke="#1B1B22" stroke-width="2.2" stroke-linejoin="round"/>
<line x1="890.5" y1="418" x2="903" y2="418" stroke="#DDE6F5" stroke-width="1.3"/><line x1="891" y1="422" x2="902.5" y2="422" stroke="#DDE6F5" stroke-width="1.3"/>
<line x1="896.7" y1="362.6" x2="896.7" y2="370.6" stroke="#1B1B22" stroke-width="2.4" stroke-linecap="round"/>
<line x1="866.6" y1="393.1" x2="875.3" y2="393.1" stroke="#1B1B22" stroke-width="2.4" stroke-linecap="round"/>
<line x1="918.4" y1="393.1" x2="927.6" y2="393.1" stroke="#1B1B22" stroke-width="2.4" stroke-linecap="round"/>
<line x1="875.3" y1="371.3" x2="881.2" y2="377.2" stroke="#1B1B22" stroke-width="2.4" stroke-linecap="round"/>
<line x1="912.4" y1="377.2" x2="918.4" y2="371.3" stroke="#1B1B22" stroke-width="2.4" stroke-linecap="round"/>
<line x1="875.3" y1="415" x2="881.2" y2="409.1" stroke="#1B1B22" stroke-width="2.4" stroke-linecap="round"/>
<line x1="912.4" y1="409.1" x2="918.4" y2="415" stroke="#1B1B22" stroke-width="2.4" stroke-linecap="round"/>
<path d="M962.5,379.2 A14.6,14.6 0 0 0 962.5,408.4 Z" fill="#F2A93B"/>
<path d="M962.5,379.2 A14.6,14.6 0 0 1 962.5,408.4 Z" fill="#C97B63"/>
<circle cx="962.5" cy="393.8" r="14.6" fill="none" stroke="#1B1B22" stroke-width="2.6"/>
<line x1="962.5" y1="364" x2="962.5" y2="373.3" stroke="#1B1B22" stroke-width="2.4" stroke-linecap="round"/>
<line x1="962.5" y1="415" x2="962.5" y2="424.3" stroke="#1B1B22" stroke-width="2.4" stroke-linecap="round"/>
<line x1="932.6" y1="393.8" x2="941.9" y2="393.8" stroke="#1B1B22" stroke-width="2.4" stroke-linecap="round"/>
<line x1="982.4" y1="393.8" x2="991.7" y2="393.8" stroke="#1B1B22" stroke-width="2.4" stroke-linecap="round"/>
<line x1="941.3" y1="373.3" x2="947.9" y2="379.2" stroke="#1B1B22" stroke-width="2.4" stroke-linecap="round"/>
<line x1="977" y1="379.2" x2="983.6" y2="373.3" stroke="#1B1B22" stroke-width="2.4" stroke-linecap="round"/>
<line x1="941.3" y1="415" x2="947.9" y2="408.4" stroke="#1B1B22" stroke-width="2.4" stroke-linecap="round"/>
<line x1="977" y1="408.4" x2="983.6" y2="415" stroke="#1B1B22" stroke-width="2.4" stroke-linecap="round"/>
<mask id="wmask" maskUnits="userSpaceOnUse" x="0" y="0" width="1024" height="558"><rect x="0" y="0" width="1024" height="558" fill="#fff"/><g fill="#000"><text transform="translate(771.3,545) scale(1.050,1)" x="0" y="0" font-size="42" font-weight="bold">j</text><text transform="translate(786.5,545) scale(1.158,1)" x="0" y="0" font-size="42" font-weight="bold">u</text><text transform="translate(813.5,545) scale(1.250,1)" x="0" y="0" font-size="42" font-weight="bold">t</text><text transform="translate(831.6,545) scale(1.158,1)" x="0" y="0" font-size="42" font-weight="bold">e</text><text transform="translate(858.7,545) scale(1.105,1)" x="0" y="0" font-size="42" font-weight="bold">n</text><text transform="translate(884.6,545) scale(1.250,1)" x="0" y="0" font-size="42" font-weight="bold">t</text><text transform="translate(902.1,545) scale(1.050,1)" x="0" y="0" font-size="42" font-weight="bold">.</text><text transform="translate(914.7,545) scale(1.084,1)" x="0" y="0" font-size="42" font-weight="bold">c</text><text transform="translate(938.0,545) scale(1.105,1)" x="0" y="0" font-size="42" font-weight="bold">o</text><text transform="translate(965.3,545) scale(1.213,1)" x="0" y="0" font-size="42" font-weight="bold">m</text></g></mask>
<rect x="757.5" y="492" width="266.5" height="66" fill="#FFFFFF" fill-opacity="0.45" mask="url(#wmask)"/>
<g fill="#505050" fill-opacity="0.5"><text transform="translate(771.3,545) scale(1.050,1)" x="0" y="0" font-size="42" font-weight="bold">j</text><text transform="translate(786.5,545) scale(1.158,1)" x="0" y="0" font-size="42" font-weight="bold">u</text><text transform="translate(813.5,545) scale(1.250,1)" x="0" y="0" font-size="42" font-weight="bold">t</text><text transform="translate(831.6,545) scale(1.158,1)" x="0" y="0" font-size="42" font-weight="bold">e</text><text transform="translate(858.7,545) scale(1.105,1)" x="0" y="0" font-size="42" font-weight="bold">n</text><text transform="translate(884.6,545) scale(1.250,1)" x="0" y="0" font-size="42" font-weight="bold">t</text><text transform="translate(902.1,545) scale(1.050,1)" x="0" y="0" font-size="42" font-weight="bold">.</text><text transform="translate(914.7,545) scale(1.084,1)" x="0" y="0" font-size="42" font-weight="bold">c</text><text transform="translate(938.0,545) scale(1.105,1)" x="0" y="0" font-size="42" font-weight="bold">o</text><text transform="translate(965.3,545) scale(1.213,1)" x="0" y="0" font-size="42" font-weight="bold">m</text></g>
</svg></body></html>
